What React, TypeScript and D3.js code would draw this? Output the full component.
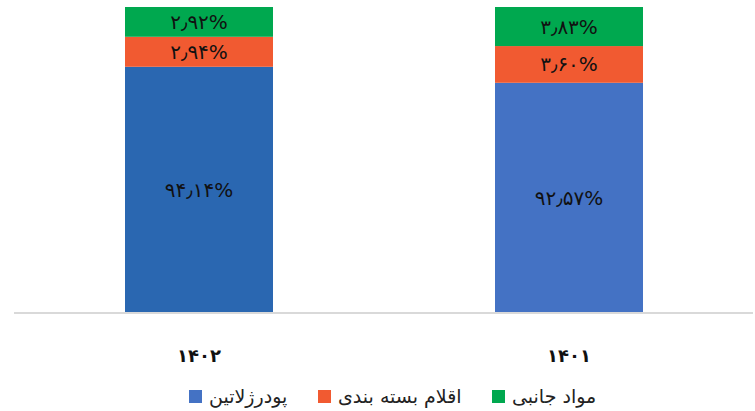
import React from 'react';
import * as d3 from 'd3';

const years = ['۱۴۰۲', '۱۴۰۱'];
const gelatin = [94.14, 92.57];
const packaging = [2.94, 3.6];
const sideMaterials = [2.92, 3.83];
const gelatinLabels = ['۹۴٫۱۴%', '۹۲٫۵۷%'];
const packagingLabels = ['۲٫۹۴%', '۳٫۶۰%'];
const sideLabels = ['۲٫۹۲%', '۳٫۸۳%'];
const seriesNames = ['پودرژلاتین', 'اقلام بسته بندی', 'مواد جانبی'];

const W = 755;
const H = 411;
const FONT = '"DejaVu Sans", sans-serif';

const App = () => {
    const rows = years.map((y, i) => ({
        year: y,
        gelatin: gelatin[i],
        packaging: packaging[i],
        side: sideMaterials[i],
    }));
    const keys = ['gelatin', 'packaging', 'side'];
    const stacked = d3.stack<any>().keys(keys)(rows);
    const labels = [gelatinLabels, packagingLabels, sideLabels];

    const x = d3.scaleBand().domain(years).range([14, 754]).paddingInner(0.6).paddingOuter(0.3);
    const y = d3.scaleLinear().domain([70, 100]).range([313, 7]).clamp(true);

    // first bar's blue is a bit darker in the source
    const fill = (k: number, i: number) => {
        if (k === 0) return i === 0 ? '#2a67b1' : '#4472c4';
        return k === 1 ? '#f15a31' : '#00a84f';
    };
    const legendColors = ['#4472c4', '#f15a31', '#00a84f'];
    // legend items left to right: blue, red, green
    const legendX = [189, 318, 492];

    return (
        <div style={{position: 'fixed', left: 0, top: 0}}>
            <svg width={W} height={H} style={{display: 'block', background: '#fff'}}>
                {stacked.map((s, k) => (
                    <g key={k}>
                        {s.map((d, i) => {
                            const y0 = y(d[0]);
                            const y1 = y(d[1]);
                            const bx = x(years[i]) as number;
                            return (
                                <g key={i}>
                                    <rect x={bx} y={y1} width={x.bandwidth()} height={y0 - y1} fill={fill(k, i)} />
                                    <text x={bx + x.bandwidth() / 2} y={(y0 + y1) / 2} textAnchor="middle"
                                          dominantBaseline="central" fontFamily={FONT} fontSize={20} fill="#111">
                                        {labels[k][i]}
                                    </text>
                                </g>
                            );
                        })}
                    </g>
                ))}

                <line x1={14} x2={753} y1={313} y2={313} stroke="#d9d9d9" strokeWidth={2} />

                {years.map(yr => (
                    <text key={yr} x={(x(yr) as number) + x.bandwidth() / 2} y={355} textAnchor="middle"
                          dominantBaseline="central" fontFamily={FONT} fontSize={18} fontWeight="bold" fill="#111">
                        {yr}
                    </text>
                ))}

                {seriesNames.map((n, i) => (
                    <g key={n}>
                        <rect x={legendX[i]} y={390} width={13} height={13} fill={legendColors[i]} />
                        <text x={legendX[i] + 20} y={396} dominantBaseline="central" fontFamily={FONT}
                              fontSize={19} fill="#222" direction="rtl" textAnchor="end">
                            {n}
                        </text>
                    </g>
                ))}
            </svg>
        </div>
    );
};

export default App;
